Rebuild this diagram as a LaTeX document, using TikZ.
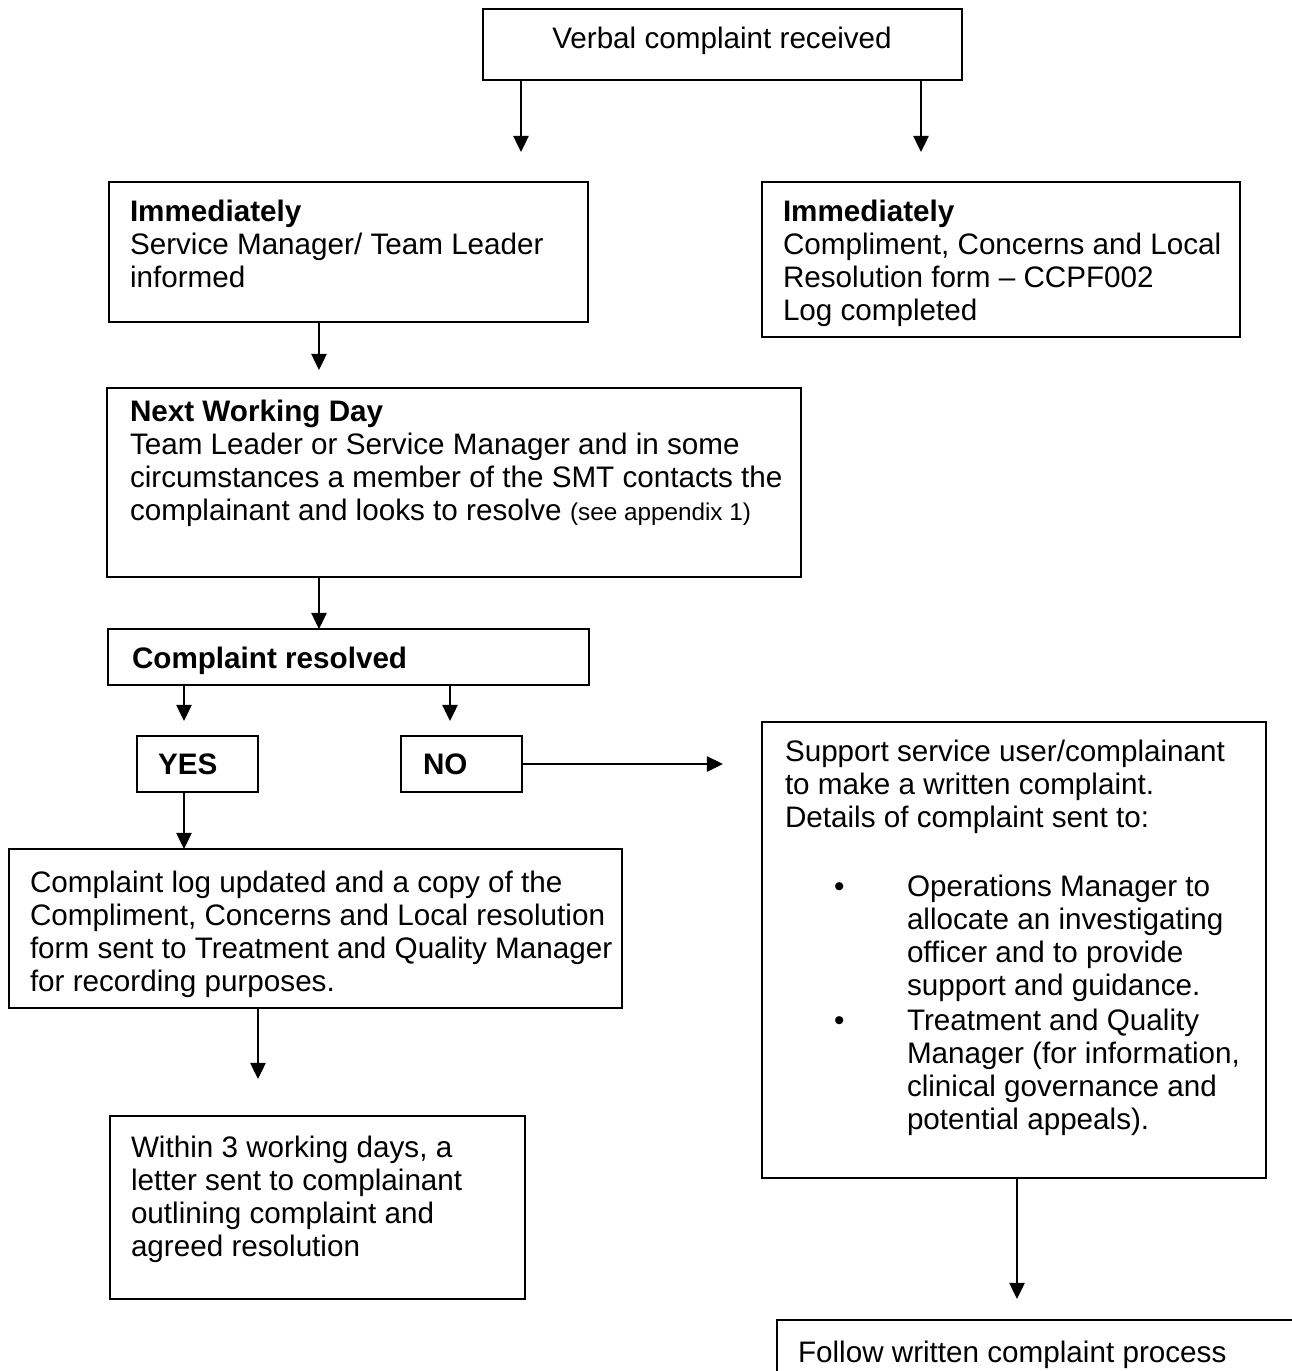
\documentclass[tikz,border=0pt]{standalone}
\usepackage{fontspec}
\setmainfont{Liberation Sans}
\usetikzlibrary{arrows.meta}
\newcommand\boxnode[5]{\node[boxst, minimum width={(#4-#2)*0.4115pt}, minimum height={(#5-#3)*0.4115pt}] (#1) at ({(#2+#4)/2},{(#3+#5)/2}) {};}
\newcommand\txtnode[4]{\node[txtst] (#1) at (#2,#3) {\parbox[t]{400pt}{\raggedright #4}};}
\tikzset{
  boxst/.style={draw=black, line width=0.95pt, inner sep=0pt, outer sep=0pt, fill=none},
  txtst/.style={anchor=base west, inner sep=0pt, outer sep=0pt, font=\fontsize{12.2}{13.6}\selectfont},
  arr/.style={line width=0.95pt, -{Triangle[width=6.2pt,length=6.6pt]}},
}
\begin{document}
\begin{tikzpicture}[x=0.4115pt, y=-0.4115pt]
\useasboundingbox (0,0) rectangle (1292,1371);
\clip (0,0) rectangle (1292,1371);
\fill[white] (0,0) rectangle (1292,1371);

% boxes
\boxnode{verbal}{483}{9}{962}{80}
\boxnode{immL}{109}{182}{588}{322}
\boxnode{immR}{762}{182}{1240}{337}
\boxnode{nwd}{107}{388}{801}{577}
\boxnode{cr}{108}{629}{589}{685}
\boxnode{yes}{137}{736}{258}{792}
\boxnode{no}{401}{736}{522}{792}
\boxnode{support}{762}{722}{1266}{1178}
\boxnode{log}{9}{849}{622}{1008}
\boxnode{within}{110}{1116}{525}{1299}
\boxnode{follow}{777}{1320}{1310}{1390}

% texts
\node[txtst, anchor=base] (tverbal) at (722,48) {Verbal complaint received};
\txtnode{timmL}{130}{221}{\textbf{Immediately}\\Service Manager/ Team Leader\\informed}
\txtnode{timmR}{783}{221}{\textbf{Immediately}\\Compliment, Concerns and Local\\Resolution form – CCPF002\\Log completed}
\txtnode{tnwd}{130}{421}{\textbf{Next Working Day}\\Team Leader or Service Manager and in some\\circumstances a member of the SMT contacts the\\complainant and looks to resolve {\fontsize{10}{13.6}\selectfont(see appendix 1)}}
\txtnode{tcr}{132}{668}{\textbf{Complaint resolved}}
\txtnode{tyes}{158}{774}{\textbf{YES}}
\txtnode{tno}{423}{774}{\textbf{NO}}
\txtnode{tsupport}{785}{761}{Support service user/complainant\\to make a written complaint.\\Details of complaint sent to:}
\txtnode{bul1}{834}{896}{\textbullet}
\txtnode{tbul1}{907}{896}{Operations Manager to\\allocate an investigating\\officer and to provide\\support and guidance.}
\txtnode{bul2}{834}{1030}{\textbullet}
\txtnode{tbul2}{907}{1030}{Treatment and Quality\\Manager (for information,\\clinical governance and\\potential appeals).}
\txtnode{tlog}{30}{892}{Complaint log updated and a copy of the\\Compliment, Concerns and Local resolution\\form sent to Treatment and Quality Manager\\for recording purposes.}
\txtnode{twithin}{131}{1157}{Within 3 working days, a\\letter sent to complainant\\outlining complaint and\\agreed resolution}
\txtnode{tfollow}{798}{1362}{Follow written complaint process}

% free ends and x positions
\coordinate (e1) at (521,152);
\coordinate (e2) at (921,152);
\coordinate (e3) at (319,370);
\coordinate (x319) at (319,0);
\coordinate (eyes) at (184,721);
\coordinate (eno) at (450,721);
\coordinate (x184) at (184,0);
\coordinate (eNo) at (723,764);
\coordinate (elog) at (258,1079);
\coordinate (esup) at (1017,1299);

% connectors
\draw[arr] (verbal.south -| e1) -- (e1);
\draw[arr] (verbal.south -| e2) -- (e2);
\draw[arr] (immL.south -| e3) -- (e3);
\draw[arr] (nwd.south -| x319) -- (cr.north -| x319);
\draw[arr] (cr.south -| eyes) -- (eyes);
\draw[arr] (cr.south -| eno) -- (eno);
\draw[arr] (no.east) -- (eNo);
\draw[arr] (yes.south -| x184) -- (log.north -| x184);
\draw[arr] (log.south -| elog) -- (elog);
\draw[arr] (support.south -| esup) -- (esup);
\end{tikzpicture}
\end{document}
